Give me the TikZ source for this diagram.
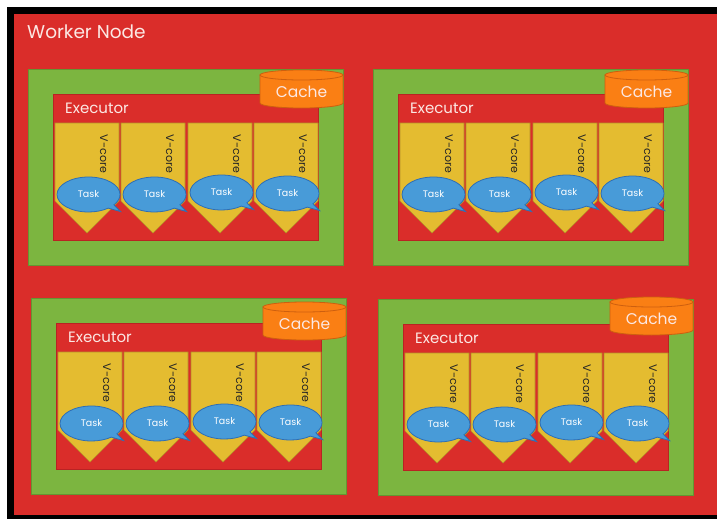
\documentclass[tikz,border=0pt]{standalone}
\usepackage{fontspec}
\setmainfont{Poppins}
\usetikzlibrary{shapes.callouts}
\definecolor{wred}{RGB}{218,45,42}
\definecolor{wredline}{RGB}{185,35,35}
\definecolor{ggreen}{RGB}{124,181,64}
\definecolor{ggreenline}{RGB}{100,150,50}
\definecolor{vyellow}{RGB}{228,188,48}
\definecolor{vyellowline}{RGB}{180,145,40}
\definecolor{tblue}{RGB}{72,155,216}
\definecolor{tblueline}{RGB}{46,110,180}
\definecolor{corange}{RGB}{250,127,20}
\definecolor{corangeline}{RGB}{205,95,15}
\definecolor{ltext}{RGB}{252,232,228}
\tikzset{
  workerbox/.style={fill=wred, draw=none, anchor=north west, inner sep=0pt, minimum width=710pt, minimum height=501pt},
  workerlabel/.style={anchor=west, inner sep=0pt, text=ltext, font=\fontsize{18.5}{20}\selectfont},
  greenbox/.style={fill=ggreen, draw=ggreenline, line width=0.8pt, anchor=north west, inner sep=0pt, minimum width=315pt, minimum height=196pt},
  execbox/.style={fill=wred, draw=wredline, line width=0.8pt, anchor=north west, inner sep=0pt, minimum width=265pt, minimum height=146pt},
  execlabel/.style={anchor=west, inner sep=0pt, text=ltext, font=\fontsize{15}{17}\selectfont},
  vcorebox/.style={fill=vyellow, draw=vyellowline, line width=0.6pt},
  vcorelabel/.style={rotate=-90, inner sep=0pt, text=black!85, font=\fontsize{11}{12}\selectfont},
  taskbubble/.style={ellipse callout, fill=tblue, draw=tblueline, line width=0.8pt, inner sep=0pt, minimum width=63pt, minimum height=35pt, text=white, font=\fontsize{9.5}{11}\selectfont},
  cachebody/.style={fill=corange, draw=corangeline, line width=0.8pt},
  cachelabel/.style={inner sep=0pt, text=ltext, font=\fontsize{15.5}{17}\selectfont}
}
\begin{document}
\begin{tikzpicture}[x=1pt,y=-1pt]
\useasboundingbox (0,0) rectangle (717,519);
\fill[white] (0,0) rectangle (717,519);
\fill[black] (7,7) rectangle (717,14);
\fill[black] (7,7) rectangle (14,519);
\fill[black] (7,515) rectangle (717,519);
\node[workerbox] (worker) at (14,14) {};
\node[workerlabel] (workerlabel) at (27,32) {Worker Node};
\foreach \g/\gx/\gy/\cy in {a/28/69/1, b/373/69/1, c/31/298/4, d/378/299/-2} {
  \begin{scope}[shift={(\gx,\gy)}]
    \node[greenbox] (green-\g) at (0,0) {};
    \node[execbox] (exec-\g) at (25,25) {};
    \node[execlabel] (execlabel-\g) at (37,39.5) {Executor};
    \foreach \i/\cx in {1/27, 2/93, 3/160, 4/226} {
      \filldraw[vcorebox] (\cx,54) -- ++(64,0) -- ++(0,78) -- ++(-32,32) -- ++(-32,-32) -- cycle;
      \node[vcorelabel] (vcore-\g-\i) at (\cx+49,85) {V-core};
    }
    \foreach \i/\cx/\ty in {1/27/125.5, 2/93/125.5, 3/160/123.5, 4/226/124.5} {
      \coordinate (tip-\g-\i) at (\cx+65.5,\ty+17);
      \node[taskbubble, callout absolute pointer={(tip-\g-\i)}] (task-\g-\i) at (\cx+33.5,\ty) {Task};
    }
    \filldraw[cachebody] (232,\cy+5) -- (232,\cy+33) arc[start angle=180, end angle=360, x radius=41.5pt, y radius=5pt] -- (315,\cy+5) -- cycle;
    \filldraw[cachebody] (273.5,\cy+5) ellipse [x radius=41.5pt, y radius=5pt];
    \node[cachelabel] (cache-\g) at (273.5,\cy+22) {Cache};
  \end{scope}
}
\end{tikzpicture}
\end{document}
